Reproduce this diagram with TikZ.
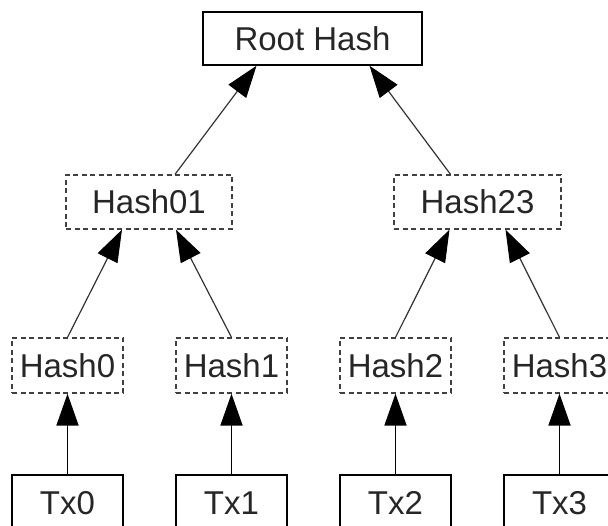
\documentclass[tikz,border=0pt]{standalone}
\usepackage{fontspec}
\setmainfont{Liberation Sans}
\usetikzlibrary{arrows.meta}

\begin{document}
\begin{tikzpicture}[x=1pt,y=-1pt,
	font=\fontsize{33}{40}\selectfont,
	hashbox/.style={draw=black!75,line width=1.3pt,dash pattern=on 5pt off 3.5pt,
		minimum width=111pt,minimum height=55pt,inner sep=0pt,text=black!85},
	txbox/.style={draw=black,line width=1.5pt,minimum width=111pt,
		minimum height=56pt,inner sep=0pt,text=black!85},
	up/.style={draw=black!80,line width=1.2pt,
		-{Triangle[length=32pt,width=22pt,color=black]}}]
\clip (0,0) rectangle (608,526);
\node[txbox,minimum width=219pt,minimum height=53pt] (root) at (312.5,38.5) {Root Hash};
\node[hashbox,minimum width=166pt,minimum height=54pt] (h01) at (149,202) {Hash01};
\node[hashbox,minimum width=167pt,minimum height=54pt] (h23) at (477.5,202) {Hash23};
% leaves
\foreach \i/\x in {0/67.5,1/231.5,2/395.5,3/559.5}{
	\node[hashbox] (h\i) at (\x,365.5) {Hash\i};
	\node[txbox] (tx\i) at (\x,503) {Tx\i};
	\draw[up,draw=black,line width=1.8pt] (tx\i) -- (h\i);
	}
\draw[up] (h0.north) -- ([xshift=-27pt]h01.south);
\draw[up] (h1.north) -- ([xshift=27pt]h01.south);
\draw[up] (h2.north) -- ([xshift=-28pt]h23.south);
\draw[up] (h3.north) -- ([xshift=28pt]h23.south);
\draw[up] ([xshift=26pt]h01.north) -- ([xshift=-56pt]root.south);
\draw[up] ([xshift=-27pt]h23.north) -- ([xshift=57pt]root.south);

\end{tikzpicture}
\end{document}
